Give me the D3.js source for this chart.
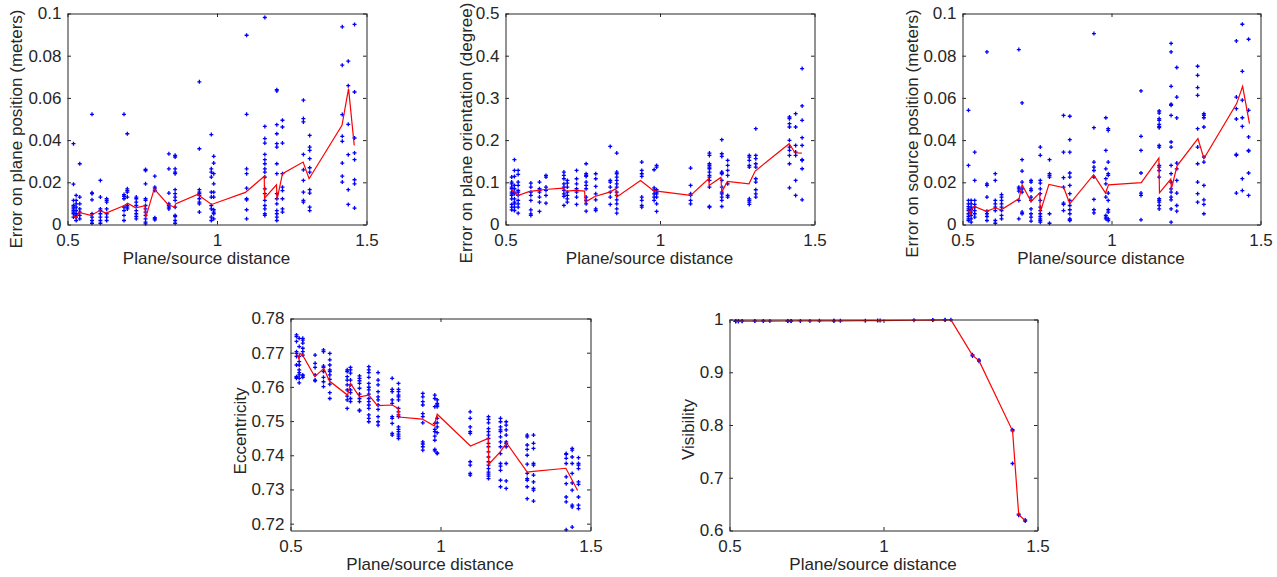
<!DOCTYPE html>
<html><head><meta charset="utf-8">
<script src="https://cdn.jsdelivr.net/npm/d3@7"></script>
<style>
body{margin:0;background:#fff;}
svg text{font-family:"Liberation Sans",Arial,Helvetica,sans-serif;fill:#262626;}
</style></head><body>
<svg id="chart" width="1277" height="577"></svg>
<script>
// ---------- DATA ----------
const distances = [0.520, 0.529, 0.541, 0.582, 0.610, 0.631, 0.689, 0.700, 0.730, 0.761, 0.792, 0.839, 0.860, 0.941, 0.981, 0.989, 1.099, 1.160, 1.200, 1.219, 1.289, 1.310, 1.419, 1.439, 1.460];
const xTickValues = [0.5, 1, 1.5];
const xTickLabels = ["0.5", "1", "1.5"];
const xLabel = "Plane/source distance";

// Error on plane position (meters)
const planePosErr = [
  [0.0383,0.0191,0.0114,0.0090,0.0082,0.0074,0.0066,0.0059,0.0051,0.0035],
  [0.0138,0.0114,0.0098,0.0082,0.0066,0.0051,0.0043,0.0035,0.0019],
  [0.0288,0.0130,0.0098,0.0074,0.0059,0.0043,0.0027],
  [0.0522,0.0150,0.0146,0.0117,0.0051,0.0035,0.0019,0.0006],
  [0.0209,0.0130,0.0074,0.0066,0.0051,0.0035,0.0019,0.0006],
  [0.0122,0.0114,0.0106,0.0074,0.0051,0.0035,0.0019],
  [0.0522,0.0142,0.0134,0.0122,0.0082,0.0066,0.0043,0.0019],
  [0.0430,0.0169,0.0161,0.0153,0.0130,0.0090,0.0082,0.0074],
  [0.0130,0.0122,0.0106,0.0090,0.0066,0.0051,0.0038,0.0027],
  [0.0261,0.0256,0.0193,0.0122,0.0114,0.0090,0.0074,0.0059,0.0043,0.0027,0.0011,0.0003],
  [0.0229,0.0177,0.0169,0.0161,0.0032,0.0027,0.0022],
  [0.0335,0.0264,0.0149,0.0098,0.0090,0.0082,0.0074],
  [0.0328,0.0320,0.0264,0.0248,0.0241,0.0165,0.0146,0.0130,0.0114,0.0082,0.0043,0.0038,0.0019,0.0006],
  [0.0676,0.0359,0.0165,0.0153,0.0146,0.0138,0.0122,0.0106,0.0098,0.0059],
  [0.0426,0.0264,0.0248,0.0225,0.0153,0.0130,0.0090,0.0074,0.0035,0.0019],
  [0.0323,0.0291,0.0241,0.0193,0.0153,0.0130,0.0070,0.0059,0.0051,0.0027],
  [0.0897,0.0522,0.0264,0.0241,0.0172,0.0122,0.0117,0.0070,0.0027],
  [0.0981,0.0465,0.0407,0.0386,0.0332,0.0307,0.0288,0.0264,0.0248,0.0225,0.0169,0.0146,0.0114,0.0090,0.0074,0.0051,0.0043],
  [0.0639,0.0633,0.0473,0.0430,0.0383,0.0367,0.0288,0.0241,0.0146,0.0122,0.0098,0.0066,0.0051,0.0035,0.0019],
  [0.0494,0.0462,0.0386,0.0241,0.0177,0.0161,0.0122,0.0074,0.0059],
  [0.0589,0.0502,0.0486,0.0332,0.0259,0.0209,0.0153,0.0114,0.0106],
  [0.0422,0.0367,0.0351,0.0312,0.0269,0.0248,0.0165,0.0149,0.0082,0.0066],
  [0.0937,0.0755,0.0521,0.0418,0.0394,0.0291,0.0229,0.0201],
  [0.0774,0.0658,0.0475,0.0331,0.0165,0.0095],
  [0.0948,0.0628,0.0410,0.0339,0.0307,0.0212,0.0193,0.0078]
];
const planePosMeanX = [0.519,0.528,0.539,0.578,0.608,0.629,0.690,0.701,0.728,0.759,0.761,0.790,0.836,0.859,0.861,0.935,0.982,1.095,1.158,1.159,1.199,1.201,1.219,1.288,1.308,1.418,1.440,1.459];
const planePosMean  = [0.0043,0.0030,0.0057,0.0043,0.0066,0.0054,0.0090,0.0101,0.0079,0.0089,0.0030,0.0169,0.0095,0.0082,0.0098,0.0142,0.0095,0.0152,0.0228,0.0125,0.0188,0.0119,0.0241,0.0296,0.0217,0.0470,0.0644,0.0375];

// Error on plane orientation (degree)
const planeOriErr = [
  [0.1123,0.1005,0.0965,0.0886,0.0847,0.0767,0.0728,0.0688,0.0609,0.0475,0.0411,0.0348],
  [0.1535,0.1282,0.1139,0.0926,0.0847,0.0767,0.0728,0.0609,0.0530,0.0491,0.0411,0.0332],
  [0.1282,0.1187,0.1005,0.0926,0.0807,0.0767,0.0688,0.0570,0.0491,0.0411,0.0269],
  [0.0981,0.0886,0.0767,0.0688,0.0570,0.0348,0.0253,0.0214],
  [0.1005,0.0847,0.0807,0.0767,0.0649,0.0530,0.0309],
  [0.1163,0.1123,0.0886,0.0807,0.0688,0.0506],
  [0.1242,0.1163,0.1084,0.0965,0.0886,0.0807,0.0728,0.0665,0.0451],
  [0.1044,0.0981,0.0886,0.0767,0.0688,0.0609,0.0530],
  [0.1282,0.1084,0.0965,0.0847,0.0767,0.0649,0.0475],
  [0.1440,0.1203,0.1163,0.1139,0.1005,0.0926,0.0847,0.0649,0.0570,0.0491,0.0316],
  [0.1203,0.1084,0.0902,0.0728,0.0585,0.0372,0.0332],
  [0.1851,0.1044,0.1005,0.0886,0.0767,0.0649,0.0475],
  [0.1693,0.1242,0.1203,0.1123,0.1044,0.0965,0.0886,0.0767,0.0688,0.0585,0.0491,0.0372,0.0269],
  [0.1479,0.1282,0.1203,0.1139,0.0649,0.0570,0.0451,0.0411],
  [0.1297,0.0870,0.0807,0.0728,0.0649,0.0570],
  [0.1400,0.1361,0.0823,0.0767,0.0728,0.0649,0.0491,0.0309],
  [0.1337,0.0926,0.0728,0.0688,0.0570,0.0491],
  [0.1693,0.1638,0.1440,0.1400,0.1361,0.1321,0.1242,0.1163,0.1123,0.1044,0.0886,0.0427,0.0411],
  [0.2009,0.1677,0.1614,0.1242,0.1218,0.1203,0.1044,0.0886,0.0767,0.0728,0.0649,0.0570,0.0427],
  [0.1519,0.1400,0.1282,0.1163,0.0965,0.0688,0.0649],
  [0.1638,0.1598,0.1519,0.1400,0.1361,0.0609,0.0570,0.0530,0.0475],
  [0.2271,0.1638,0.1559,0.1440,0.1361,0.1084,0.1005,0.0823,0.0728,0.0649],
  [0.2547,0.2508,0.2389,0.2310,0.1994,0.1835,0.1756,0.1638,0.1440,0.0870],
  [0.2627,0.2310,0.1875,0.1717,0.1638,0.1044,0.0688],
  [0.3695,0.2809,0.2468,0.2057,0.1875,0.1535,0.1519,0.1321,0.0585]
];
const planeOriMeanX = [0.518,0.527,0.540,0.578,0.608,0.626,0.686,0.697,0.727,0.756,0.758,0.789,0.837,0.857,0.859,0.937,0.978,0.990,1.099,1.158,1.159,1.197,1.200,1.218,1.288,1.308,1.418,1.437,1.459];
const planeOriMean  = [0.0823,0.0790,0.0688,0.0783,0.0807,0.0830,0.0862,0.0790,0.0807,0.0790,0.0530,0.0665,0.0767,0.0847,0.0648,0.1044,0.0807,0.0790,0.0688,0.1090,0.0926,0.1116,0.0767,0.1020,0.0966,0.1266,0.1915,0.1700,0.1690];

// Error on source position (meters)
const sourcePosErr = [
  [0.0541,0.0280,0.0114,0.0098,0.0085,0.0074,0.0066,0.0051,0.0038,0.0027,0.0019],
  [0.0114,0.0098,0.0082,0.0070,0.0059,0.0043,0.0027,0.0011],
  [0.0343,0.0209,0.0114,0.0095,0.0082,0.0066,0.0051,0.0035],
  [0.0818,0.0193,0.0185,0.0130,0.0063,0.0051,0.0038,0.0019],
  [0.0241,0.0209,0.0114,0.0098,0.0082,0.0066,0.0019,0.0006],
  [0.0142,0.0130,0.0114,0.0098,0.0082,0.0066,0.0043,0.0027],
  [0.0829,0.0177,0.0169,0.0158,0.0114,0.0027],
  [0.0576,0.0307,0.0253,0.0201,0.0169,0.0153,0.0059,0.0051],
  [0.0209,0.0201,0.0169,0.0161,0.0130,0.0114,0.0074,0.0051,0.0035,0.0016],
  [0.0367,0.0328,0.0209,0.0196,0.0169,0.0146,0.0114,0.0082,0.0066,0.0051,0.0038,0.0027,0.0019,0.0011],
  [0.0307,0.0241,0.0233,0.0225,0.0051,0.0006],
  [0.0517,0.0343,0.0222,0.0177,0.0101,0.0095,0.0066],
  [0.0513,0.0402,0.0343,0.0244,0.0225,0.0185,0.0146,0.0114,0.0090,0.0070,0.0051,0.0027,0.0022,0.0019],
  [0.0905,0.0459,0.0296,0.0272,0.0256,0.0225,0.0119,0.0070,0.0055],
  [0.0506,0.0351,0.0264,0.0217,0.0193,0.0130,0.0043,0.0035,0.0027],
  [0.0454,0.0446,0.0296,0.0241,0.0233,0.0149,0.0114,0.0070,0.0059,0.0027,0.0019],
  [0.0633,0.0418,0.0351,0.0244,0.0149,0.0138,0.0022],
  [0.0538,0.0528,0.0502,0.0494,0.0475,0.0465,0.0459,0.0375,0.0367,0.0280,0.0272,0.0256,0.0225,0.0122,0.0114,0.0106,0.0090,0.0074],
  [0.0858,0.0818,0.0655,0.0570,0.0565,0.0517,0.0391,0.0367,0.0280,0.0241,0.0201,0.0169,0.0153,0.0130,0.0117,0.0074,0.0011],
  [0.0744,0.0604,0.0505,0.0291,0.0264,0.0209,0.0149,0.0090,0.0063],
  [0.0750,0.0707,0.0649,0.0612,0.0454,0.0367,0.0288,0.0201,0.0146,0.0106],
  [0.0525,0.0517,0.0506,0.0462,0.0320,0.0296,0.0185,0.0117,0.0095,0.0051],
  [0.0870,0.0604,0.0549,0.0500,0.0332,0.0328,0.0149],
  [0.0949,0.0726,0.0589,0.0506,0.0465,0.0217,0.0161],
  [0.0878,0.0541,0.0415,0.0351,0.0348,0.0244,0.0138]
];
const sourcePosMeanX = [0.520,0.526,0.530,0.540,0.580,0.610,0.630,0.690,0.700,0.730,0.759,0.761,0.790,0.840,0.860,0.940,0.980,0.990,1.100,1.159,1.161,1.199,1.201,1.220,1.290,1.310,1.420,1.440,1.463];
const sourcePosMean  = [0.0066,0.0051,0.0070,0.0085,0.0062,0.0078,0.0070,0.0123,0.0188,0.0109,0.0150,0.0059,0.0190,0.0174,0.0098,0.0236,0.0149,0.0188,0.0198,0.0315,0.0150,0.0215,0.0169,0.0278,0.0407,0.0313,0.0573,0.0655,0.0478];

// Eccentricity
const eccentricity = [
  [0.7752,0.7747,0.7733,0.7703,0.7698,0.7689,0.7664,0.7630,0.7628,0.7625],
  [0.7742,0.7718,0.7689,0.7674,0.7664,0.7650,0.7642,0.7635,0.7625,0.7612],
  [0.7742,0.7737,0.7728,0.7713,0.7703,0.7693,0.7635,0.7632,0.7628],
  [0.7693,0.7669,0.7657,0.7635,0.7620,0.7618],
  [0.7708,0.7703,0.7661,0.7657,0.7645,0.7628,0.7615,0.7601],
  [0.7698,0.7679,0.7664,0.7650,0.7645,0.7635,0.7622,0.7608,0.7583,0.7566],
  [0.7650,0.7645,0.7630,0.7620,0.7606,0.7591,0.7573,0.7562,0.7537],
  [0.7657,0.7650,0.7640,0.7620,0.7606,0.7591,0.7583,0.7566,0.7557],
  [0.7632,0.7625,0.7618,0.7610,0.7596,0.7579,0.7566,0.7557,0.7532,0.7530],
  [0.7659,0.7650,0.7642,0.7628,0.7610,0.7599,0.7591,0.7579,0.7566,0.7557,0.7547,0.7537,0.7518,0.7508,0.7498],
  [0.7642,0.7620,0.7606,0.7586,0.7571,0.7562,0.7547,0.7534,0.7513,0.7498,0.7488],
  [0.7625,0.7593,0.7586,0.7562,0.7552,0.7513,0.7508,0.7493,0.7464,0.7459],
  [0.7610,0.7593,0.7586,0.7576,0.7571,0.7562,0.7537,0.7527,0.7518,0.7513,0.7483,0.7476,0.7469,0.7462,0.7456,0.7449],
  [0.7581,0.7571,0.7557,0.7547,0.7522,0.7513,0.7495,0.7439,0.7433,0.7425,0.7415],
  [0.7576,0.7566,0.7542,0.7493,0.7476,0.7469,0.7456,0.7444,0.7417,0.7413],
  [0.7562,0.7552,0.7547,0.7542,0.7508,0.7495,0.7483,0.7466,0.7407,0.7405],
  [0.7527,0.7508,0.7483,0.7469,0.7464,0.7381,0.7371,0.7347,0.7342],
  [0.7513,0.7505,0.7495,0.7478,0.7469,0.7459,0.7449,0.7435,0.7425,0.7410,0.7395,0.7381,0.7371,0.7361,0.7351,0.7345,0.7339,0.7332],
  [0.7508,0.7498,0.7483,0.7474,0.7469,0.7454,0.7439,0.7425,0.7405,0.7376,0.7368,0.7356,0.7327,0.7308],
  [0.7498,0.7488,0.7474,0.7459,0.7439,0.7435,0.7425,0.7376,0.7325,0.7303],
  [0.7459,0.7454,0.7430,0.7417,0.7400,0.7374,0.7347,0.7332,0.7327,0.7308,0.7273],
  [0.7459,0.7435,0.7420,0.7376,0.7371,0.7342,0.7322,0.7303,0.7298,0.7266],
  [0.7405,0.7403,0.7391,0.7376,0.7337,0.7317,0.7278,0.7264,0.7182],
  [0.7420,0.7415,0.7395,0.7376,0.7347,0.7319,0.7298,0.7254,0.7249,0.7190],
  [0.7393,0.7376,0.7371,0.7361,0.7322,0.7315,0.7278,0.7254,0.7244]
];
const eccMeanX = [0.521,0.528,0.531,0.539,0.581,0.611,0.630,0.690,0.700,0.730,0.761,0.790,0.839,0.859,0.861,0.939,0.979,0.989,1.100,1.159,1.161,1.199,1.220,1.289,1.310,1.418,1.457];
const eccMean  = [0.7696,0.7682,0.7698,0.7695,0.7630,0.7654,0.7617,0.7576,0.7610,0.7571,0.7576,0.7545,0.7547,0.7537,0.7512,0.7506,0.7486,0.7520,0.7427,0.7449,0.7374,0.7410,0.7436,0.7351,0.7353,0.7362,0.7297];

// Visibility
const visibility = [
  [0.9968,0.9969,0.9967],[0.9968,0.9969],[0.9968,0.9970],[0.9970,0.9971],[0.9970,0.9972],
  [0.9971],[0.9972,0.9973,0.9971],[0.9972,0.9973],[0.9973],[0.9973],[0.9974],
  [0.9975,0.9974],[0.9975],[0.9978],[0.9979],[0.9979],[0.9986],[0.9990,0.9991],
  [0.9992,0.9993],[0.9994],[0.9330,0.9310],[0.9230,0.9210],[0.7910,0.7890,0.7270],
  [0.6310,0.6290],[0.6200,0.6180]
];
const visMeanX = distances;
const visMean = [0.9968,0.9968,0.9969,0.9970,0.9971,0.9971,0.9972,0.9972,0.9973,0.9973,0.9974,0.9975,0.9975,0.9978,0.9979,0.9979,0.9986,0.9990,0.9993,0.9994,0.9320,0.9220,0.7890,0.6300,0.6190];

const yTicks1 = [0, 0.02, 0.04, 0.06, 0.08, 0.1];
const yTickLabels1 = ["0", "0.02", "0.04", "0.06", "0.08", "0.1"];
const yTicks2 = [0, 0.1, 0.2, 0.3, 0.4, 0.5];
const yTickLabels2 = ["0", "0.1", "0.2", "0.3", "0.4", "0.5"];
const yTicks4 = [0.72, 0.73, 0.74, 0.75, 0.76, 0.77, 0.78];
const yTickLabels4 = ["0.72", "0.73", "0.74", "0.75", "0.76", "0.77", "0.78"];
const yTicks5 = [0.6, 0.7, 0.8, 0.9, 1];
const yTickLabels5 = ["0.6", "0.7", "0.8", "0.9", "1"];

// ---------- LAYOUT ----------
const panels = [
  {vals: planePosErr, mx: planePosMeanX, my: planePosMean, dom: [0, 0.1], ticks: yTicks1, labels: yTickLabels1,
   ylabel: "Error on plane position (meters)", box: {l: 67.5, r: 366.5, t: 13.5, b: 224.5}, ylx: 21.5, yly: 129},
  {vals: planeOriErr, mx: planeOriMeanX, my: planeOriMean, dom: [0, 0.5], ticks: yTicks2, labels: yTickLabels2,
   ylabel: "Error on plane orientation (degree)", box: {l: 505.5, r: 814.5, t: 13.5, b: 224.5}, ylx: 471.5, yly: 133},
  {vals: sourcePosErr, mx: sourcePosMeanX, my: sourcePosMean, dom: [0, 0.1], ticks: yTicks1, labels: yTickLabels1,
   ylabel: "Error on source position (meters)", box: {l: 962.5, r: 1260.5, t: 13.5, b: 224.5}, ylx: 918, yly: 133.5},
  {vals: eccentricity, mx: eccMeanX, my: eccMean, dom: [0.718, 0.78], ticks: yTicks4, labels: yTickLabels4,
   ylabel: "Eccentricity", box: {l: 290.5, r: 590.5, t: 318.5, b: 530.5}, ylx: 245.5, yly: 431},
  {vals: visibility, mx: visMeanX, my: visMean, dom: [0.6, 1], ticks: yTicks5, labels: yTickLabels5,
   ylabel: "Visibility", box: {l: 729.5, r: 1037.5, t: 319.5, b: 530.5}, ylx: 694, yly: 429.5}
];

const svg = d3.select("#chart");
const axisColor = "#262626";
const fontSize = 17;

panels.forEach(p => {
  const B = p.box;
  const x = d3.scaleLinear().domain([0.5, 1.5]).range([B.l, B.r]);
  const y = d3.scaleLinear().domain(p.dom).range([B.b, B.t]);
  const g = svg.append("g");

  // scatter points (+ markers)
  const pts = [];
  distances.forEach((d, i) => p.vals[i].forEach(v => pts.push([d, v])));
  const s = 2;
  g.append("g").selectAll("path").data(pts).join("path")
    .attr("d", d => { const px = x(d[0]), py = y(d[1]);
      return `M${px - s},${py}H${px + s}M${px},${py - s}V${py + s}`; })
    .attr("stroke", "#0000ff").attr("stroke-width", 1.3).attr("fill", "none");

  // mean line
  const line = d3.line().x((d, i) => x(p.mx[i])).y((d, i) => y(p.my[i]));
  g.append("path").datum(p.my).attr("d", line)
    .attr("fill", "none").attr("stroke", "#ff0000").attr("stroke-width", 1.2);

  // axes (MATLAB-like box, inner ticks)
  const fmtX = (d) => xTickLabels[xTickValues.indexOf(d)];
  const fmtY = (d) => p.labels[p.ticks.indexOf(d)];
  const ax = [
    g.append("g").attr("transform", `translate(0,${B.b})`)
      .call(d3.axisBottom(x).tickValues(xTickValues).tickFormat(fmtX).tickSizeInner(-3.5).tickSizeOuter(0).tickPadding(9)),
    g.append("g").attr("transform", `translate(0,${B.t})`)
      .call(d3.axisTop(x).tickValues(xTickValues).tickFormat("").tickSizeInner(-3.5).tickSizeOuter(0)),
    g.append("g").attr("transform", `translate(${B.l},0)`)
      .call(d3.axisLeft(y).tickValues(p.ticks).tickFormat(fmtY).tickSizeInner(-3.5).tickSizeOuter(0).tickPadding(6)),
    g.append("g").attr("transform", `translate(${B.r},0)`)
      .call(d3.axisRight(y).tickValues(p.ticks).tickFormat("").tickSizeInner(-3.5).tickSizeOuter(0))
  ];
  ax.forEach(a => {
    a.select(".domain").attr("stroke", axisColor).attr("stroke-width", 1);
    a.selectAll(".tick line").attr("stroke", axisColor).attr("stroke-width", 1);
    a.selectAll(".tick text").attr("fill", axisColor)
      .style("font-size", fontSize + "px").style("font-family", '"Liberation Sans", Arial, sans-serif');
  });

  // axis labels
  const cx = (B.l + B.r) / 2 - 10.5;
  g.append("text").attr("x", cx).attr("y", B.b + 39.5).attr("text-anchor", "middle")
    .style("font-size", fontSize + "px").text(xLabel);
  g.append("text").attr("transform", `translate(${p.ylx},${p.yly}) rotate(-90)`).attr("text-anchor", "middle")
    .style("font-size", fontSize + "px").text(p.ylabel);
});
</script>
</body></html>
